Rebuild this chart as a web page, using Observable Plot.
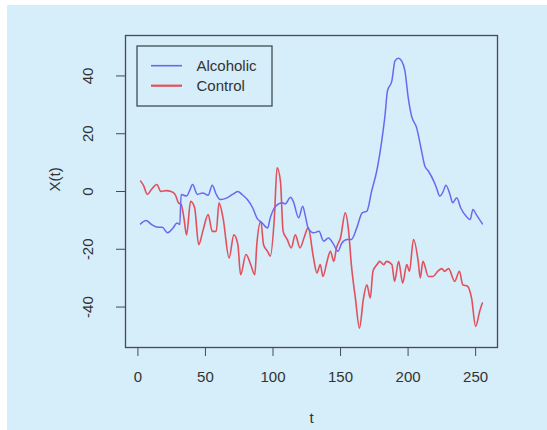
<!DOCTYPE html>
<html>
<head>
<meta charset="utf-8">
<script src="https://cdn.jsdelivr.net/npm/d3@7"></script>
<script src="https://cdn.jsdelivr.net/npm/@observablehq/plot@0.6"></script>
<style>
  html, body { margin: 0; padding: 0; background: #ffffff; }
  #wrap { padding: 5px 0 0 7px; }
  svg { display: block; }
</style>
</head>
<body>
<div id="wrap"></div>
<script>
// ---- data ----
const alcT = [2,6,10,15,18,22,26,29,31,32,36,38,40.5,44,48,52,55,58,61,66,70,74,77,81,85,88,92,96,98,102,107,109,113,115,119,122,124,126,130,134,137.5,141,145,148,151,155,158,162,166,169.5,173,176.8,180.5,183,184.7,188,190.3,192.8,195.2,197.7,200.1,202.6,206.3,210,212.4,215,219,221,223.5,226,228,231,233,236,239,243,246,248,250.5,255];
const alcV = [-11.2,-10,-11.4,-12.4,-12.4,-14.3,-12.6,-10.9,-11.4,-1,-1.6,0,2.4,-1,-0.5,-1.3,2.2,-1,-2.8,-2.2,-1,0,-1,-2.8,-5.7,-9.1,-10.9,-12.6,-9.1,-5.1,-3.9,-4.3,-2,-3.4,-9.1,-5.1,-8.6,-12.6,-14.3,-13.8,-17.2,-16.1,-18.4,-20.7,-17.8,-16.6,-16.6,-12.6,-7.4,-6.8,0.1,7.1,17.5,26.7,34.8,38.3,45.2,46.1,45.2,41.7,32.5,26.1,22.1,14,8.8,7.1,3.6,1.3,-1.6,0,2.2,-1,-3.9,-2.2,-5.7,-8.6,-9.7,-6.2,-8,-11.2];

const ctrlT = [2,4,7,10,14,17,21,24.5,27.5,30,32,34,36,39,42,45,48,52,55,58,60,63,67.5,71,74,76,80,83.5,86.5,88,91,93,96,98,101,103,105.5,107.5,110.5,113.5,116.5,120,123,126,130,132.5,135,137,140,142.5,145,147,150,153.5,156,158,161,164,167,169.5,172,174,177,179,182,184,188,190,193,196,199,201,204,207.5,209,211,215,218.5,222,225,227,230,234.5,238,240.5,244,247,250,253,255];
const ctrlV = [3.6,2.2,-1,0.7,2.4,0,0.3,0,-1,-3.9,-4.5,-9,-15,-3.4,-5.7,-18.4,-13.8,-8,-13.8,-13.8,-3.9,-9.1,-23,-15,-18.4,-28.8,-21.8,-25.3,-28.8,-18.4,-10.3,-18.4,-20.7,-22.4,-9.1,8.2,3.6,-13.8,-16.6,-19.5,-15,-19.5,-16,-12.6,-23,-28.2,-25.3,-29.4,-24.2,-20.7,-24.2,-19.5,-16,-7.4,-13.8,-25.3,-36.9,-47.3,-36.9,-32.3,-36.9,-27.6,-25.3,-24.2,-25.3,-24.2,-25.3,-31.1,-24.2,-31.7,-25.3,-27.6,-16.6,-24.2,-29.9,-24.2,-29.4,-29.4,-27.6,-26.7,-27.6,-26.7,-31.1,-27.6,-32.3,-32.8,-36.9,-46.7,-41.5,-38.6];

const xTicks = [0, 50, 100, 150, 200, 250];
const yTicks = [-40, -20, 0, 20, 40];
const seriesNames = ["Alcoholic", "Control"];
const seriesColors = ["#6b68f0", "#e2505c"];

// ---- tables built from the arrays ----
const alc = alcT.map((t, i) => ({t, v: alcV[i]}));
const ctrl = ctrlT.map((t, i) => ({t, v: ctrlV[i]}));

const ink = "#333333";
const boxInk = "#3e4e54";
const font = "'Liberation Sans', Arial, Helvetica, sans-serif";

const chart = Plot.plot({
  width: 540,
  height: 425,
  marginLeft: 118,
  marginRight: 50,
  marginTop: 30,
  marginBottom: 83,
  style: {background: "#d6edfa", fontFamily: font, fontSize: "15px", color: ink, overflow: "visible"},
  x: {domain: [-9.2, 266.2]},
  y: {domain: [-54, 54]},
  marks: [
    Plot.frame({stroke: boxInk, strokeWidth: 1.3}),
    Plot.axisX({ticks: xTicks, tickSize: 9, tickPadding: 15, tickFormat: d => String(d), label: null, fontSize: 15, stroke: boxInk, color: ink}),
    Plot.axisY({ticks: yTicks, tickSize: 9, tickFormat: () => "", label: null, stroke: boxInk}),
    Plot.text(yTicks, {y: d => d, text: d => String(d), frameAnchor: "left", dx: -37, rotate: -90, textAnchor: "middle", lineAnchor: "middle", fontSize: 15, fill: ink}),
    Plot.text(["t"], {text: d => d, frameAnchor: "bottom", dy: 71, lineAnchor: "middle", fontSize: 15, fill: ink}),
    Plot.text(["X(t)"], {text: d => d, frameAnchor: "left", dx: -70, rotate: -90, lineAnchor: "middle", fontSize: 15, fill: ink}),
    Plot.line(ctrl, {x: "t", y: "v", stroke: seriesColors[1], strokeWidth: 1.6, curve: "monotone-x"}),
    Plot.line(alc, {x: "t", y: "v", stroke: seriesColors[0], strokeWidth: 1.5, curve: "monotone-x"})
  ]
});

// ---- legend (R-style box, top-left inside the plot) ----
const svg = d3.select(chart);
const lg = svg.append("g").attr("font-family", font).attr("font-size", 15).attr("text-anchor", "start");
lg.append("rect").attr("x", 130).attr("y", 41).attr("width", 135).attr("height", 60)
  .attr("fill", "none").attr("stroke", boxInk).attr("stroke-width", 1.3);
seriesNames.forEach((name, i) => {
  const y = 60.7 + i * 20;
  lg.append("line").attr("x1", 144).attr("x2", 175).attr("y1", y).attr("y2", y)
    .attr("stroke", seriesColors[i]).attr("stroke-width", i === 0 ? 1.6 : 2.2);
  lg.append("text").attr("x", 189.5).attr("y", y).attr("dy", "0.35em")
    .attr("text-anchor", "start").attr("fill", ink).text(name);
});

document.getElementById("wrap").appendChild(chart);
</script>
</body>
</html>
